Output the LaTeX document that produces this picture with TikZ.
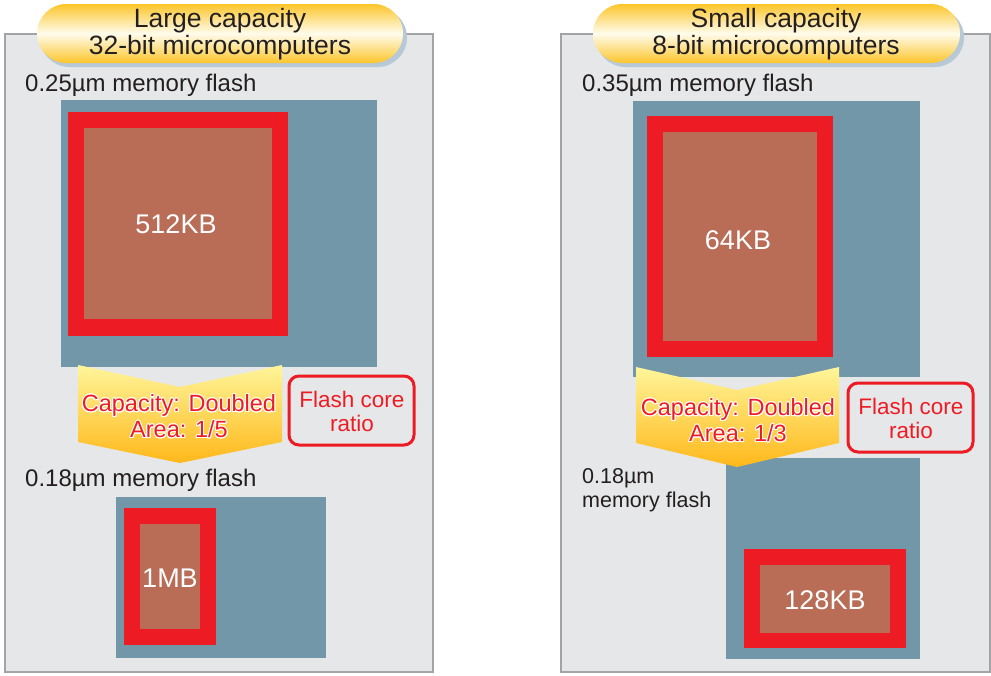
\documentclass[tikz,border=0pt]{standalone}
\usepackage{fontspec}
\setmainfont{Liberation Sans}
\usepackage{tikz}
\usepackage{contour}
\contourlength{1pt}

\definecolor{panelgray}{HTML}{E6E7E8}
\definecolor{panelline}{HTML}{A3A4A6}
\definecolor{dieblue}{HTML}{7297A8}
\definecolor{corered}{HTML}{ED1C24}
\definecolor{corebrown}{HTML}{B96D57}
\definecolor{inkgray}{HTML}{231F20}
\definecolor{bannergold}{HTML}{FCC52A}
\definecolor{bannerlight}{HTML}{FFFCEC}
\definecolor{bannershadow}{HTML}{B7C8D6}
\definecolor{arrowtop}{HTML}{FFF59A}
\definecolor{arrowbottom}{HTML}{FFB81A}

\begin{document}
\begin{tikzpicture}[x = 1pt, y = -1pt,
  every node/.style={inner sep = 0pt, text = inkgray},
  panel/.style={fill = panelgray, draw = panelline, line width = 1.5pt},
  banner/.style={rounded corners = 29.5pt, top color = bannergold,
    bottom color = bannergold, middle color = bannerlight},
  die/.style={fill = dieblue},
  label/.style={font = \fontsize{24}{25}\selectfont, anchor = west, align = left},
  size/.style={font = \fontsize{27}{29}\selectfont, text = white},
  arrowtxt/.style={font = \fontsize{23.5}{26}\selectfont, align = center, text = corered},
  ratio/.style={draw = corered, line width = 3pt, rounded corners = 10pt},
  ratiotxt/.style={font = \fontsize{22.5}{24}\selectfont, align = center, text = corered}]

  \useasboundingbox (0, 0) rectangle (991, 675);

  % panels
  \draw[panel] (  5, 34) rectangle (433, 672);
  \draw[panel] (561, 34) rectangle (990, 672);

  % banners
  \fill[bannershadow] ( 40, 8) [rounded corners = 29.5pt] rectangle (407, 67);
  \shade[banner] ( 37, 4) rectangle (403, 63);
  \node[align=center, font = \fontsize{26.5}{27}\selectfont] (titleL) at (220, 34)
    {Large capacity\\32-bit microcomputers};

  \fill[bannershadow] (596, 8) [rounded corners = 29.5pt] rectangle (964, 67);
  \shade[banner] (593, 4) rectangle (960, 63);
  \node[align=center, font = \fontsize{26.5}{27}\selectfont] (titleR) at (776, 34)
    {Small capacity\\8-bit microcomputers};

  % left: 0.25um -> 0.18um
  \node[label] (procLa) at ( 25, 85) {0.25µm memory flash};
  \fill[die] ( 61, 100) rectangle (377, 367);
  \fill[corered] ( 68, 112) rectangle (288, 336);
  \fill[corebrown] ( 84, 128) rectangle (272, 319);
  \node[size] (coreLa) at (176, 224) {512KB};

  \node[label] (procLb) at ( 25, 480) {0.18µm memory flash};
  \fill[die] (116, 497) rectangle (326, 658);
  \fill[corered] (124, 508) rectangle (216, 645);
  \fill[corebrown] (140, 524) rectangle (200, 629);
  \node[size] (coreLb) at (170, 578) {1MB};

  \shade[top color = arrowtop, bottom color = arrowbottom]
    ( 78, 365) -- (180, 387) -- (282, 365) -- (282, 442) -- (180, 463) -- ( 78, 442) -- cycle;
  \node[arrowtxt] (capL) at (179, 417)
    {\contour{white}{Capacity: Doubled}\\\contour{white}{Area: 1/5}};

  \draw[ratio] (289, 376) rectangle (414, 445);
  \node[ratiotxt] (ratioL) at (352, 411) {Flash core\\ratio};

  % right: 0.35um -> 0.18um
  \node[label] (procRa) at (582, 85) {0.35µm memory flash};
  \fill[die] (633, 101) rectangle (920, 377);
  \fill[corered] (647, 116) rectangle (833, 357);
  \fill[corebrown] (663, 132) rectangle (817, 341);
  \node[size] (coreRa) at (738, 240) {64KB};

  \fill[die] (726, 458) rectangle (920, 659);
  \fill[corered] (744, 549) rectangle (906, 648);
  \fill[corebrown] (760, 565) rectangle (890, 633);
  \node[size] (coreRb) at (825, 600) {128KB};
  \node[label, font = \fontsize{21.5}{24}\selectfont] (procRb) at (582, 490)
    {0.18µm\\memory flash};

  \shade[top color = arrowtop, bottom color = arrowbottom]
    (636, 367) -- (737, 390) -- (839, 367) -- (839, 443) -- (737, 467) -- (636, 443) -- cycle;
  \node[arrowtxt] (capR) at (738, 421)
    {\contour{white}{Capacity: Doubled}\\\contour{white}{Area: 1/3}};

  \draw[ratio] (848, 383) rectangle (973, 452);
  \node[ratiotxt] (ratioR) at (911, 418) {Flash core\\ratio};

\end{tikzpicture}
\end{document}
